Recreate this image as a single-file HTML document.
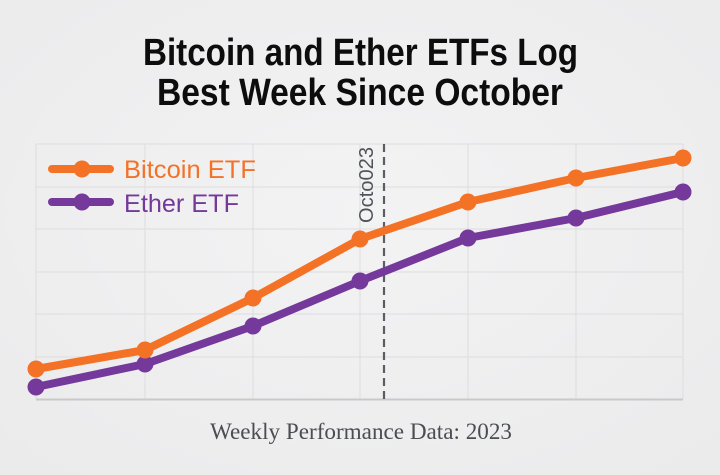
<!DOCTYPE html>
<html>
<head>
<meta charset="utf-8">
<style>
  html,body{margin:0;padding:0;background:#efeff0;}
  svg{display:block;}
</style>
</head>
<body>
<svg width="720" height="475" viewBox="0 0 720 475" xmlns="http://www.w3.org/2000/svg">
  <defs>
    <radialGradient id="bg" cx="50%" cy="45%" r="70%">
      <stop offset="0%" stop-color="#f3f3f4"/>
      <stop offset="100%" stop-color="#ebebec"/>
    </radialGradient>
  </defs>
  <rect x="0" y="0" width="720" height="475" fill="url(#bg)"/>

  <!-- Title -->
  <g font-family="'Liberation Sans', Arial, sans-serif" font-weight="bold" fill="#0d0d0d" font-size="38">
    <text x="143" y="65" textLength="435" lengthAdjust="spacingAndGlyphs">Bitcoin and Ether ETFs Log</text>
    <text x="157" y="105" textLength="406" lengthAdjust="spacingAndGlyphs">Best Week Since October</text>
  </g>

  <!-- Grid -->
  <g stroke="#dddddf" stroke-width="1">
    <line x1="36" y1="144" x2="683" y2="144"/>
    <line x1="36" y1="187" x2="683" y2="187"/>
    <line x1="36" y1="229" x2="683" y2="229"/>
    <line x1="36" y1="272" x2="683" y2="272"/>
    <line x1="36" y1="314" x2="683" y2="314"/>
    <line x1="36" y1="357" x2="683" y2="357"/>
    <line x1="36" y1="144" x2="36" y2="399"/>
    <line x1="145" y1="144" x2="145" y2="399"/>
    <line x1="253" y1="144" x2="253" y2="399"/>
    <line x1="360" y1="144" x2="360" y2="399"/>
    <line x1="468" y1="144" x2="468" y2="399"/>
    <line x1="576" y1="144" x2="576" y2="399"/>
    <line x1="683" y1="144" x2="683" y2="399"/>
  </g>
  <!-- Axis line -->
  <line x1="36" y1="399.5" x2="683" y2="399.5" stroke="#c9c9cb" stroke-width="2"/>

  <!-- Dashed vertical -->
  <line x1="384" y1="144" x2="384" y2="402" stroke="#5a5d62" stroke-width="2.2" stroke-dasharray="8,5"/>
  <text transform="translate(373,223) rotate(-90)" font-family="'Liberation Sans', Arial, sans-serif" font-size="20" fill="#50545a" textLength="76" lengthAdjust="spacingAndGlyphs">Octo023</text>

  <!-- Ether series -->
  <g stroke="#74399a" fill="#74399a">
    <polyline fill="none" stroke-width="8" stroke-linejoin="round" stroke-linecap="round"
      points="36,387 145,364 253,326 360,281 468,238 576,218 683,192"/>
    <g stroke="none">
      <circle cx="36" cy="387" r="8.5"/>
      <circle cx="145" cy="364" r="8.5"/>
      <circle cx="253" cy="326" r="8.5"/>
      <circle cx="360" cy="281" r="8.5"/>
      <circle cx="468" cy="238" r="8.5"/>
      <circle cx="576" cy="218" r="8.5"/>
      <circle cx="683" cy="192" r="8.5"/>
    </g>
  </g>

  <!-- Bitcoin series -->
  <g stroke="#f47226" fill="#f47226">
    <polyline fill="none" stroke-width="8" stroke-linejoin="round" stroke-linecap="round"
      points="36,369 145,350 253,298 360,239 468,202 576,178 683,158"/>
    <g stroke="none">
      <circle cx="36" cy="369" r="8.5"/>
      <circle cx="145" cy="350" r="8.5"/>
      <circle cx="253" cy="298" r="8.5"/>
      <circle cx="360" cy="239" r="8.5"/>
      <circle cx="468" cy="202" r="8.5"/>
      <circle cx="576" cy="178" r="8.5"/>
      <circle cx="683" cy="158" r="8.5"/>
    </g>
  </g>

  <!-- Legend -->
  <line x1="52" y1="169" x2="110" y2="169" stroke="#f47226" stroke-width="8" stroke-linecap="round"/>
  <circle cx="82" cy="169" r="8.5" fill="#f47226"/>
  <line x1="52" y1="202" x2="110" y2="202" stroke="#74399a" stroke-width="8" stroke-linecap="round"/>
  <circle cx="82" cy="202" r="8.5" fill="#74399a"/>
  <g font-family="'Liberation Sans', Arial, sans-serif" font-size="25">
    <text x="124" y="178" fill="#f47226" textLength="132" lengthAdjust="spacingAndGlyphs">Bitcoin ETF</text>
    <text x="124" y="212" fill="#74399a" textLength="115" lengthAdjust="spacingAndGlyphs">Ether ETF</text>
  </g>

  <!-- X label -->
  <text x="210" y="439" font-family="'Liberation Serif', 'Times New Roman', serif" font-size="23" fill="#4a4d52" textLength="302" lengthAdjust="spacingAndGlyphs">Weekly Performance Data: 2023</text>
</svg>
</body>
</html>
